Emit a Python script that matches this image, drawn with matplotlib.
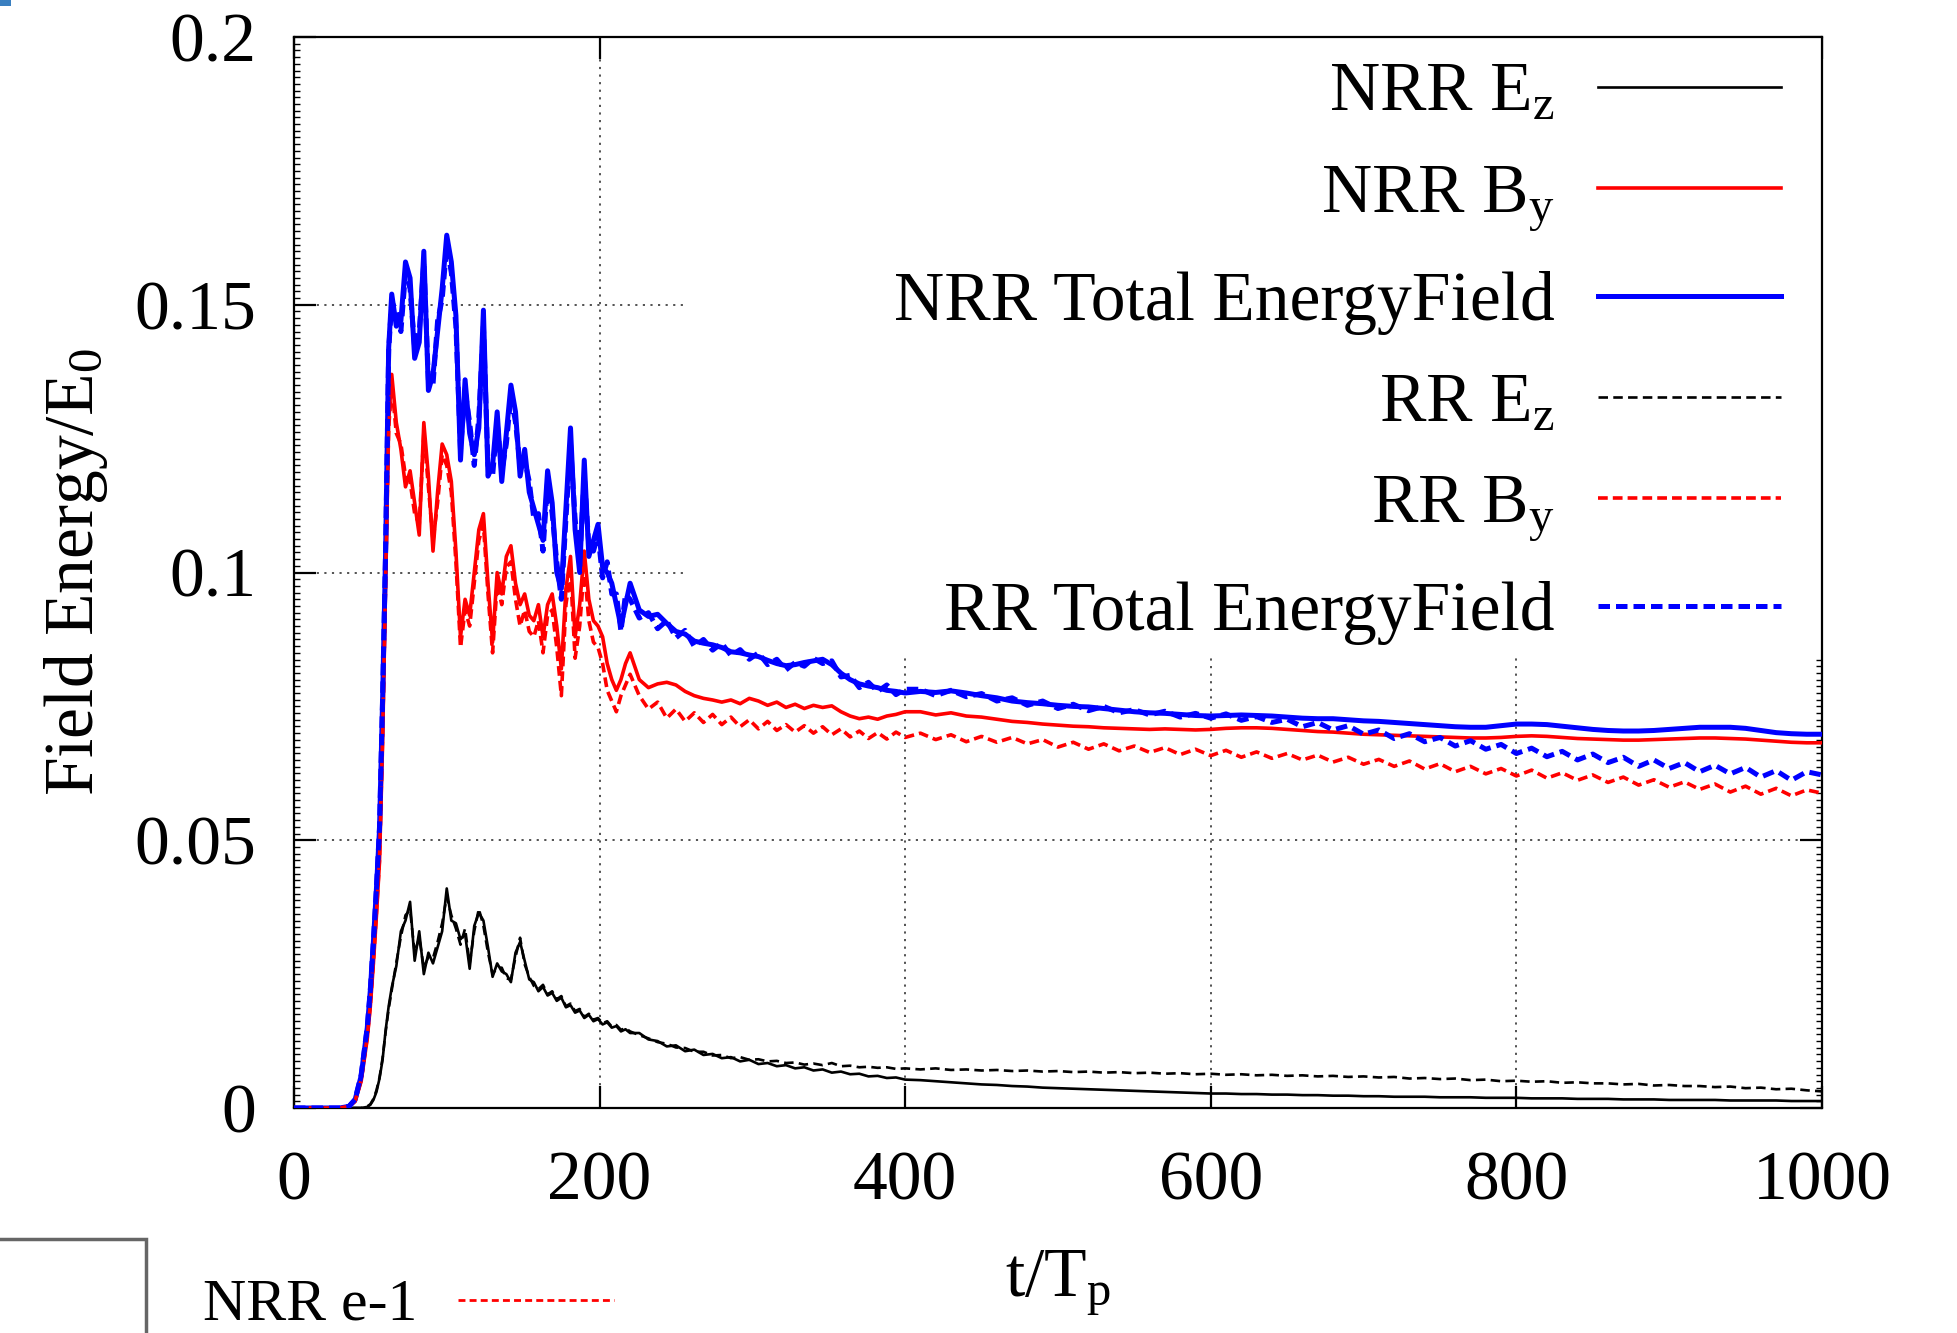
import matplotlib
matplotlib.use("Agg")
import matplotlib.pyplot as plt
from matplotlib.patches import Rectangle
from matplotlib.lines import Line2D
from matplotlib.ticker import MultipleLocator

# ---------------- data ----------------
t = [0, 10, 20, 30, 36, 40, 44, 48, 50, 52, 54, 56, 58, 60, 62, 64,
     67, 70, 73, 76, 79, 82, 85, 88, 91, 94, 97, 100, 103, 106, 109, 112, 115, 118, 121, 124,
     127, 130, 133, 136, 139, 142, 145, 148, 151, 154, 157, 160, 163, 166, 169, 172, 175, 178, 181, 184,
     187, 190, 193, 196, 199, 202, 205, 208, 211, 214, 217, 220,
     226, 232, 238, 244, 250, 256, 262, 268, 274, 280, 286, 292, 298, 304, 310, 316, 322, 328, 334, 340,
     346, 352, 358, 364, 370, 376, 382, 388, 394, 400,
     410, 420, 430, 440, 450, 460, 470, 480, 490, 500, 510, 520, 530, 540, 550, 560, 570, 580, 590, 600,
     610, 620, 630, 640, 650, 660, 670, 680, 690, 700, 710, 720, 730, 740, 750, 760, 770, 780, 790, 800,
     810, 820, 830, 840, 850, 860, 870, 880, 890, 900, 910, 920, 930, 940, 950, 960, 970, 980, 990, 1000]

nrr_ez = [0, 0, 0, 0, 0, 0, 0, 0.0002, 0.0006, 0.0015, 0.0030, 0.0055, 0.0090, 0.0145, 0.0190, 0.0225,
          0.0265, 0.0330, 0.0350, 0.0385, 0.0275, 0.0330, 0.0250, 0.0290, 0.0270, 0.0300,
          0.0330, 0.0410, 0.0350, 0.0345, 0.0315, 0.0325, 0.0260, 0.0340, 0.0365, 0.0350,
          0.0300, 0.0245, 0.0270, 0.0255, 0.0250, 0.0235, 0.0290, 0.0310, 0.0275, 0.0240,
          0.0235, 0.0218, 0.0226, 0.0210, 0.0215, 0.0200, 0.0206, 0.0188, 0.0192, 0.0178,
          0.0182, 0.0168, 0.0174, 0.0162, 0.0166, 0.0156, 0.0160, 0.0150, 0.0153, 0.0143,
          0.0147, 0.0140,
          0.0140, 0.0128, 0.0125, 0.0115, 0.0117, 0.0106, 0.0109, 0.0099, 0.0101, 0.0093,
          0.0095, 0.0087, 0.0090, 0.0082, 0.0084, 0.0078, 0.0080, 0.0074, 0.0076, 0.0070,
          0.0072, 0.0066, 0.0068, 0.0063, 0.0064, 0.0059, 0.0060, 0.0056, 0.0057, 0.0053,
          0.0052, 0.0050, 0.0048, 0.0046, 0.0044, 0.0043, 0.0041, 0.0040, 0.0038, 0.0037,
          0.0036, 0.0035, 0.0034, 0.0033, 0.0032, 0.0031, 0.0030, 0.0029, 0.0028, 0.0027,
          0.0027, 0.0026, 0.0026, 0.0025, 0.0025, 0.0024, 0.0024, 0.0023, 0.0023, 0.0022,
          0.0022, 0.0021, 0.0021, 0.0021, 0.0020, 0.0020, 0.0020, 0.0019, 0.0019, 0.0019,
          0.0018, 0.0018, 0.0018, 0.0017, 0.0017, 0.0017, 0.0016, 0.0016, 0.0016, 0.0015,
          0.0015, 0.0015, 0.0015, 0.0014, 0.0014, 0.0014, 0.0014, 0.0013, 0.0013, 0.0013]

nrr_by = [0, 0, 0, 0, 0.0003, 0.0012, 0.005, 0.013, 0.019, 0.027, 0.036, 0.046, 0.068, 0.098, 0.128, 0.137,
          0.128, 0.123, 0.116, 0.119, 0.113, 0.107, 0.128, 0.118, 0.104, 0.115,
          0.124, 0.122, 0.117, 0.104, 0.088, 0.095, 0.092, 0.100, 0.108, 0.111,
          0.098, 0.087, 0.100, 0.096, 0.103, 0.105, 0.098, 0.094, 0.096, 0.092,
          0.091, 0.094, 0.088, 0.094, 0.096, 0.090, 0.082, 0.097, 0.103, 0.088,
          0.094, 0.104, 0.095, 0.091, 0.090, 0.088, 0.083, 0.080, 0.078, 0.080,
          0.083, 0.085,
          0.0800, 0.0785, 0.0792, 0.0795, 0.0790, 0.0778, 0.0770, 0.0765, 0.0762, 0.0758,
          0.0762, 0.0755, 0.0765, 0.0760, 0.0752, 0.0758, 0.0748, 0.0754, 0.0746, 0.0752,
          0.0748, 0.0751, 0.0740, 0.0732, 0.0727, 0.0730, 0.0726, 0.0732, 0.0735, 0.0740,
          0.0740, 0.0734, 0.0738, 0.0732, 0.0730, 0.0726, 0.0722, 0.0720, 0.0717, 0.0715,
          0.0713, 0.0712, 0.0710, 0.0709, 0.0708, 0.0707, 0.0708, 0.0707, 0.0706, 0.0707,
          0.0709, 0.0710, 0.0710, 0.0709, 0.0707, 0.0705, 0.0703, 0.0702, 0.0700, 0.0698,
          0.0697, 0.0696, 0.0695, 0.0694, 0.0693, 0.0692, 0.0691, 0.0691, 0.0692, 0.0694,
          0.0695, 0.0694, 0.0692, 0.0690, 0.0689, 0.0688, 0.0687, 0.0687, 0.0688, 0.0689,
          0.0690, 0.0691, 0.0691, 0.0690, 0.0689, 0.0687, 0.0685, 0.0683, 0.0682, 0.0682]

nrr_total = [0, 0, 0, 0, 0.0003, 0.0015, 0.006, 0.015, 0.022, 0.031, 0.041, 0.052, 0.076, 0.104, 0.142, 0.152,
             0.146, 0.147, 0.158, 0.155, 0.140, 0.143, 0.160, 0.134, 0.137, 0.145,
             0.153, 0.163, 0.158, 0.148, 0.121, 0.136, 0.126, 0.122, 0.127, 0.149,
             0.118, 0.120, 0.130, 0.117, 0.126, 0.135, 0.130, 0.118, 0.123, 0.115,
             0.112, 0.109, 0.106, 0.119, 0.113, 0.100, 0.097, 0.112, 0.127, 0.108,
             0.100, 0.121, 0.103, 0.106, 0.109, 0.101, 0.100, 0.098, 0.094, 0.090,
             0.094, 0.098,
             0.0930, 0.0918, 0.0922, 0.0905, 0.0890, 0.0885, 0.0872, 0.0868, 0.0865, 0.0860,
             0.0852, 0.0850, 0.0846, 0.0843, 0.0836, 0.0830, 0.0826, 0.0828, 0.0832, 0.0835,
             0.0838, 0.0828, 0.0812, 0.0800, 0.0792, 0.0788, 0.0785, 0.0780, 0.0778, 0.0775,
             0.0778, 0.0776, 0.0779, 0.0775, 0.0770, 0.0766, 0.0760, 0.0757, 0.0755, 0.0752,
             0.0750, 0.0749, 0.0746, 0.0743, 0.0740, 0.0738, 0.0737, 0.0735, 0.0733, 0.0732,
             0.0733, 0.0734, 0.0733, 0.0732, 0.0730, 0.0728, 0.0727, 0.0727, 0.0725, 0.0723,
             0.0722, 0.0720, 0.0718, 0.0716, 0.0714, 0.0712, 0.0711, 0.0711, 0.0714, 0.0717,
             0.0717, 0.0716, 0.0713, 0.0710, 0.0707, 0.0705, 0.0704, 0.0704, 0.0705, 0.0707,
             0.0709, 0.0711, 0.0711, 0.0711, 0.0709, 0.0705, 0.0701, 0.0699, 0.0698, 0.0698]

rr_ez = [0, 0, 0, 0, 0, 0, 0, 0.0003, 0.0007, 0.0017, 0.0033, 0.0057, 0.0093, 0.0142, 0.0185, 0.0220,
         0.0272, 0.0320, 0.0360, 0.0370, 0.0290, 0.0318, 0.0262, 0.0282, 0.0280, 0.0310,
         0.0345, 0.0395, 0.0360, 0.0335, 0.0305, 0.0335, 0.0270, 0.0330, 0.0372, 0.0340,
         0.0290, 0.0250, 0.0262, 0.0262, 0.0242, 0.0240, 0.0282, 0.0318, 0.0268, 0.0245,
         0.0228, 0.0222, 0.0230, 0.0212, 0.0218, 0.0203, 0.0209, 0.0190, 0.0195, 0.0181,
         0.0185, 0.0170, 0.0176, 0.0165, 0.0168, 0.0158, 0.0162, 0.0152, 0.0155, 0.0146,
         0.0149, 0.0143,
         0.0136, 0.0130, 0.0123, 0.0120, 0.0113, 0.0112, 0.0105, 0.0105, 0.0098, 0.0099,
         0.0093, 0.0095, 0.0090, 0.0091, 0.0087, 0.0088, 0.0084, 0.0085, 0.0081, 0.0083,
         0.0080, 0.0084, 0.0078, 0.0079, 0.0076, 0.0077, 0.0075, 0.0076, 0.0073, 0.0074,
         0.0072, 0.0074, 0.0071, 0.0072, 0.0070, 0.0071, 0.0069, 0.0070, 0.0068, 0.0069,
         0.0067, 0.0068, 0.0066, 0.0067, 0.0065, 0.0066, 0.0064, 0.0065, 0.0063, 0.0064,
         0.0062, 0.0063, 0.0061, 0.0062, 0.0060, 0.0061, 0.0059, 0.0060, 0.0058, 0.0059,
         0.0057, 0.0058, 0.0055, 0.0056, 0.0054, 0.0055, 0.0052, 0.0053, 0.0050, 0.0051,
         0.0049, 0.0050, 0.0047, 0.0048, 0.0046, 0.0046, 0.0044, 0.0045, 0.0042, 0.0043,
         0.0041, 0.0041, 0.0039, 0.0040, 0.0037, 0.0038, 0.0035, 0.0036, 0.0033, 0.0031]

rr_by = [0, 0, 0, 0, 0.0003, 0.0013, 0.0052, 0.0133, 0.0193, 0.0273, 0.0365, 0.0465, 0.069, 0.099, 0.127, 0.135,
         0.126, 0.124, 0.118, 0.117, 0.111, 0.109, 0.126, 0.116, 0.106, 0.113,
         0.122, 0.120, 0.115, 0.102, 0.086, 0.093, 0.090, 0.098, 0.106, 0.109,
         0.096, 0.085, 0.098, 0.094, 0.101, 0.102, 0.095, 0.090, 0.093, 0.089,
         0.088, 0.091, 0.085, 0.092, 0.093, 0.086, 0.077, 0.094, 0.100, 0.084,
         0.090, 0.101, 0.091, 0.087, 0.086, 0.083, 0.078, 0.076, 0.074, 0.077,
         0.079, 0.081,
         0.0770, 0.0745, 0.0758, 0.0728, 0.0745, 0.0722, 0.0738, 0.0720, 0.0735, 0.0716,
         0.0730, 0.0712, 0.0725, 0.0708, 0.0722, 0.0705, 0.0716, 0.0702, 0.0714, 0.0700,
         0.0712, 0.0697, 0.0708, 0.0693, 0.0704, 0.0690, 0.0701, 0.0689, 0.0702, 0.0692,
         0.0700, 0.0688, 0.0697, 0.0684, 0.0694, 0.0683, 0.0692, 0.0680, 0.0688, 0.0674,
         0.0683, 0.0670, 0.0680, 0.0667, 0.0676, 0.0664, 0.0673, 0.0660, 0.0670, 0.0658,
         0.0668, 0.0655, 0.0665, 0.0653, 0.0662, 0.0650, 0.0659, 0.0646, 0.0655, 0.0642,
         0.0651, 0.0638, 0.0648, 0.0633, 0.0643, 0.0628, 0.0638, 0.0624, 0.0634, 0.0620,
         0.0631, 0.0616, 0.0626, 0.0612, 0.0622, 0.0608, 0.0618, 0.0603, 0.0613, 0.0599,
         0.0609, 0.0595, 0.0605, 0.0590, 0.0601, 0.0586, 0.0597, 0.0583, 0.0594, 0.0588]

rr_total = [0, 0, 0, 0, 0.0003, 0.0016, 0.0062, 0.0152, 0.0222, 0.0312, 0.0412, 0.0525, 0.0765, 0.1045, 0.1415, 0.1505,
            0.149, 0.145, 0.156, 0.153, 0.142, 0.145, 0.158, 0.136, 0.135, 0.147,
            0.151, 0.161, 0.156, 0.146, 0.123, 0.134, 0.128, 0.120, 0.129, 0.146,
            0.120, 0.118, 0.128, 0.119, 0.124, 0.133, 0.128, 0.120, 0.121, 0.117,
            0.110, 0.111, 0.104, 0.117, 0.111, 0.102, 0.095, 0.110, 0.124, 0.110,
            0.102, 0.118, 0.105, 0.104, 0.107, 0.099, 0.102, 0.096, 0.096, 0.089,
            0.096, 0.095,
            0.0915, 0.0925, 0.0895, 0.0910, 0.0878, 0.0892, 0.0862, 0.0875, 0.0855, 0.0868,
            0.0845, 0.0856, 0.0838, 0.0850, 0.0828, 0.0838, 0.0818, 0.0832, 0.0825, 0.0840,
            0.0830, 0.0835, 0.0805, 0.0808, 0.0785, 0.0795, 0.0778, 0.0790, 0.0772, 0.0782,
            0.0782, 0.0770, 0.0780, 0.0768, 0.0774, 0.0760, 0.0766, 0.0752, 0.0760, 0.0746,
            0.0754, 0.0742, 0.0750, 0.0738, 0.0744, 0.0734, 0.0741, 0.0730, 0.0737, 0.0728,
            0.0736, 0.0724, 0.0731, 0.0720, 0.0726, 0.0712, 0.0720, 0.0706, 0.0714, 0.0698,
            0.0706, 0.0690, 0.0699, 0.0684, 0.0692, 0.0676, 0.0686, 0.0670, 0.0679, 0.0662,
            0.0672, 0.0656, 0.0666, 0.0650, 0.0661, 0.0645, 0.0655, 0.0638, 0.0650, 0.0634,
            0.0645, 0.0628, 0.0640, 0.0624, 0.0636, 0.0618, 0.0630, 0.0612, 0.0628, 0.0622]

labels = ["NRR E$_\\mathrm{z}$", "NRR B$_\\mathrm{y}$", "NRR Total EnergyField",
          "RR E$_\\mathrm{z}$", "RR B$_\\mathrm{y}$", "RR Total EnergyField"]
x_ticks = [0, 200, 400, 600, 800, 1000]
y_ticks = [0, 0.05, 0.1, 0.15, 0.2]
y_tick_labels = ["0", "0.05", "0.1", "0.15", "0.2"]

for s in (nrr_ez, nrr_by, nrr_total, rr_ez, rr_by, rr_total):
    assert len(s) == len(t), len(s)

# ---------------- style ----------------
plt.rcParams['font.family'] = ['Liberation Serif', 'DejaVu Serif']
plt.rcParams['mathtext.fontset'] = 'custom'
plt.rcParams['mathtext.rm'] = 'Liberation Serif'
plt.rcParams['mathtext.it'] = 'Liberation Serif:italic'
plt.rcParams['mathtext.bf'] = 'Liberation Serif:bold'

FS = 50
fig = plt.figure(figsize=(19.57, 13.33), dpi=100)
ax = fig.add_axes([0.1502, 0.1688, 0.7808, 0.8034])

series = [
    (nrr_ez, dict(color='black', lw=1.9)),
    (nrr_by, dict(color='#ff0000', lw=2.6)),
    (nrr_total, dict(color='#0000ff', lw=3.6)),
    (rr_ez, dict(color='black', lw=1.9, dashes=(3.6, 2.0))),
    (rr_by, dict(color='#ff0000', lw=2.6, dashes=(2.7, 1.4))),
    (rr_total, dict(color='#0000ff', lw=3.6, dashes=(2.3, 1.2))),
]
for (vals, kw), lab in zip(series, labels):
    ax.plot(t, vals, label=lab, zorder=3, **kw)

ax.set_xlim(0, 1000)
ax.set_ylim(0, 0.2)
ax.set_xticks(x_ticks)
ax.set_xticklabels([str(v) for v in x_ticks])
ax.set_yticks(y_ticks)
ax.set_yticklabels(y_tick_labels)
ax.yaxis.set_minor_locator(MultipleLocator(0.00125))

ax.tick_params(which='major', direction='in', length=16, width=1.6, top=True, right=True,
               labelsize=FS)
ax.tick_params(axis='x', pad=31)
ax.tick_params(axis='y', pad=27)
ax.tick_params(which='minor', direction='in', length=4, width=1.0, left=True, right=True,
               top=False, bottom=False)
for sp in ax.spines.values():
    sp.set_linewidth(1.6)

ax.set_axisbelow(True)
ax.grid(True, which='major', color='#444444', linestyle=(0, (1.2, 3.0)), linewidth=1.3)

# opaque key area (hides the grid behind the key, as in the reference)
ax.add_patch(Rectangle((0.2565, 0.421), 0.7435, 0.579, transform=ax.transAxes,
                       facecolor='white', edgecolor='none', zorder=1))

leg = ax.legend(loc='upper right', bbox_to_anchor=(0.978, 0.983), markerfirst=False,
                frameon=False, prop={'size': FS}, handlelength=2.64, handletextpad=0.63,
                labelspacing=0.54, borderaxespad=0.0, borderpad=0.1)
leg.set_zorder(5)

ax.set_xlabel("t/T$_\\mathrm{p}$", fontsize=FS)
ax.set_ylabel("Field Energy/E$_0$", fontsize=FS)
ax.xaxis.set_label_coords(0.5, -0.132)
ax.yaxis.set_label_coords(-0.1205, 0.5)

# fragments of neighbouring content visible at the edges of the reference
fig.patches.append(Rectangle((0, 1 - 6 / 1333), 11 / 1957, 6 / 1333, transform=fig.transFigure,
                             facecolor='#3a7fc0', edgecolor='none'))
fig.patches.append(Rectangle((-0.01, -0.05), 0.0846, 0.1205, transform=fig.transFigure,
                             facecolor='none', edgecolor='#666666', lw=2.5))
fig.text(0.1037, 0.0098, "NRR e-1", fontsize=43, va='baseline', ha='left')
fig.lines.append(Line2D([0.234, 0.314], [0.0248, 0.0248], transform=fig.transFigure,
                        color='#ff0000', lw=2.0, dashes=(2.5, 1.5)))

fig.savefig("out.png", dpi=100)
